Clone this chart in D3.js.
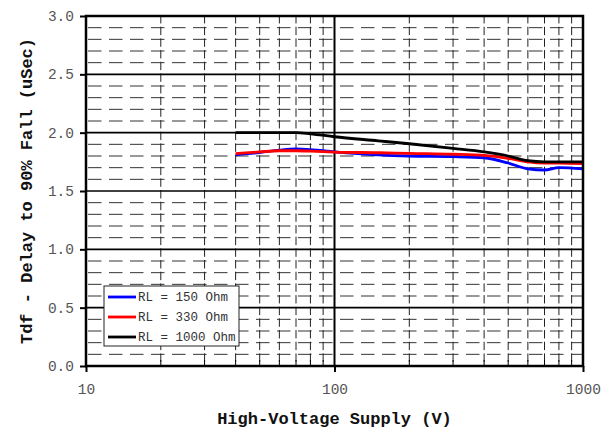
<!doctype html>
<html>
  <head>
    <meta charset="utf-8">
    <title>Tdf vs supply</title>
    <script src="https://cdn.jsdelivr.net/npm/d3@7"></script>
    <style>
      body { margin: 0; background: #fff; }
      text { font-family: "Liberation Mono", "Courier New", monospace; }
    </style>
  </head>
  <body>
    <script>
      const width = 601;
      const height = 430;

      // data
      const voltage = [40, 50, 60, 70, 80, 100, 150, 200, 300, 400, 500, 600, 700, 800, 1000];
      const rl150 = [1.81, 1.83, 1.85, 1.86, 1.855, 1.836, 1.81, 1.80, 1.795, 1.785, 1.74, 1.69, 1.68, 1.70, 1.69];
      const rl330 = [1.82, 1.835, 1.845, 1.845, 1.842, 1.834, 1.828, 1.822, 1.815, 1.805, 1.78, 1.75, 1.74, 1.74, 1.735];
      const rl1000 = [2.0, 2.0, 2.0, 2.0, 1.99, 1.965, 1.93, 1.905, 1.865, 1.835, 1.80, 1.76, 1.75, 1.75, 1.75];
      const seriesNames = ['RL = 150 Ohm', 'RL = 330 Ohm', 'RL = 1000 Ohm'];
      const seriesColors = ['#0000ff', '#ff0000', '#000000'];
      const yTicks = [0, 0.5, 1.0, 1.5, 2.0, 2.5, 3.0];
      const xTicks = [10, 100, 1000];

      const margin = {left: 86, right: 18, top: 16, bottom: 64};

      const svg = d3.select('body').append('svg')
          .attr('width', width)
          .attr('height', height);

      const x = d3.scaleLog()
          .domain([10, 1000])
          .range([margin.left, width - margin.right]);
      const y = d3.scaleLinear()
          .domain([0, 3])
          .range([height - margin.bottom, margin.top]);

      const x0 = x.range()[0], x1 = x.range()[1];
      const y0 = y.range()[0], y1 = y.range()[1];
      const minorStep = y(0) - y(0.1);

      // minor horizontal grid (dashed)
      const yMinor = d3.range(1, 30).map(i => i / 10).filter(v => Math.round(v * 10) % 5 !== 0);
      svg.append('g')
        .selectAll('line')
        .data(yMinor)
        .enter().append('line')
          .attr('x1', x0).attr('x2', x1)
          .attr('y1', d => y(d)).attr('y2', d => y(d))
          .attr('stroke', '#333')
          .attr('stroke-width', 1)
          .attr('stroke-dasharray', '13.5,7.5')
          .attr('stroke-dashoffset', -2);

      // minor vertical grid, dashes centered on the horizontal lines
      const xMinor = x.ticks().filter(v => !xTicks.includes(v));
      svg.append('g')
        .selectAll('line')
        .data(xMinor)
        .enter().append('line')
          .attr('x1', d => x(d)).attr('x2', d => x(d))
          .attr('y1', y0).attr('y2', y1)
          .attr('stroke', '#222')
          .attr('stroke-width', 1)
          .attr('stroke-dasharray', `${minorStep * 0.72},${minorStep * 0.28}`)
          .attr('stroke-dashoffset', minorStep * 0.64);

      // major grid
      svg.append('g')
        .selectAll('line')
        .data(yTicks.slice(1, -1))
        .enter().append('line')
          .attr('x1', x0).attr('x2', x1)
          .attr('y1', d => y(d)).attr('y2', d => y(d))
          .attr('stroke', '#000')
          .attr('stroke-width', 1.6);
      svg.append('line')
          .attr('x1', x(100)).attr('x2', x(100))
          .attr('y1', y0).attr('y2', y1)
          .attr('stroke', '#000')
          .attr('stroke-width', 2);

      // minor ticks on the bottom axis
      svg.append('g')
        .selectAll('line')
        .data(xMinor)
        .enter().append('line')
          .attr('x1', d => x(d)).attr('x2', d => x(d))
          .attr('y1', y0).attr('y2', y0 - 6)
          .attr('stroke', '#000')
          .attr('stroke-width', 1);

      // series
      const line = d3.line()
          .x(d => x(d[0]))
          .y(d => y(d[1]))
          .curve(d3.curveMonotoneX);
      const allSeries = [rl150, rl330, rl1000];
      svg.append('g')
        .selectAll('path')
        .data(allSeries)
        .enter().append('path')
          .attr('d', vals => line(voltage.map((v, i) => [v, vals[i]])))
          .attr('fill', 'none')
          .attr('stroke', (d, i) => seriesColors[i])
          .attr('stroke-width', 2.8)
          .attr('stroke-linejoin', 'round');

      // frame
      svg.append('rect')
          .attr('x', x0).attr('y', y1)
          .attr('width', x1 - x0).attr('height', y0 - y1)
          .attr('fill', 'none')
          .attr('stroke', '#000')
          .attr('stroke-width', 2.5);

      // y axis
      const yAxis = svg.append('g')
          .attr('transform', `translate(${x0},0)`)
          .call(d3.axisLeft(y).tickValues(yTicks).tickFormat(d3.format('.1f')).tickSize(6).tickPadding(6));
      yAxis.select('.domain').remove();
      yAxis.selectAll('line').attr('stroke', '#000').attr('stroke-width', 2);
      yAxis.selectAll('text')
          .attr('font-size', 14.5)
          .attr('fill', '#555')
          .style('font-family', '"Liberation Mono", monospace');

      // x axis
      const xAxis = svg.append('g')
          .attr('transform', `translate(0,${y0})`)
          .call(d3.axisBottom(x).tickValues(xTicks).tickFormat(d3.format('d')).tickSize(6).tickPadding(12));
      xAxis.select('.domain').remove();
      xAxis.selectAll('line').attr('stroke', '#000').attr('stroke-width', 2);
      xAxis.selectAll('text')
          .attr('font-size', 14.5)
          .attr('fill', '#555')
          .style('font-family', '"Liberation Mono", monospace');

      // axis titles
      svg.append('text')
          .attr('x', (x0 + x1) / 2)
          .attr('y', 424)
          .attr('text-anchor', 'middle')
          .attr('font-size', 17)
          .attr('font-weight', 'bold')
          .attr('fill', '#111')
          .text('High-Voltage Supply (V)');
      svg.append('text')
          .attr('transform', `translate(32,${(y0 + y1) / 2}) rotate(-90)`)
          .attr('text-anchor', 'middle')
          .attr('font-size', 17)
          .attr('font-weight', 'bold')
          .attr('fill', '#111')
          .text('Tdf - Delay to 90% Fall (uSec)');

      // legend
      const legend = svg.append('g').attr('transform', 'translate(104,286)');
      legend.append('rect')
          .attr('width', 135).attr('height', 60)
          .attr('fill', '#fff')
          .attr('stroke', '#222')
          .attr('stroke-width', 1);
      const items = legend.selectAll('g')
        .data(seriesNames)
        .enter().append('g')
          .attr('transform', (d, i) => `translate(0,${11 + i * 20})`);
      items.append('line')
          .attr('x1', 4).attr('x2', 32)
          .attr('stroke', (d, i) => seriesColors[i])
          .attr('stroke-width', 2.8);
      items.append('text')
          .attr('x', 34)
          .attr('dy', '0.35em')
          .attr('font-size', 12.5)
          .attr('fill', '#333')
          .text(d => d);
    </script>
  </body>
</html>
